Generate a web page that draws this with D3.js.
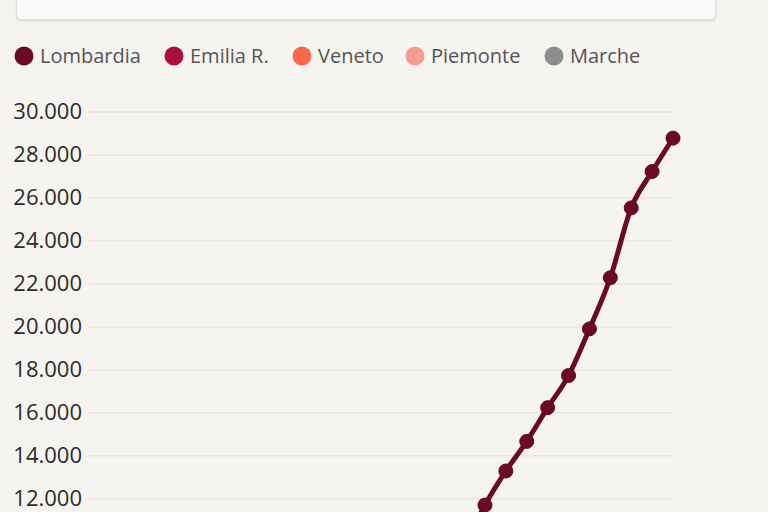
<!DOCTYPE html>
<html>
<head>
<meta charset="utf-8">
<script src="https://cdn.jsdelivr.net/npm/d3@7"></script>
<style>
  html, body { margin: 0; padding: 0; background: #f6f4f0; overflow: hidden; }
  body { width: 768px; height: 512px; position: relative; }
  .box { position: absolute; left: 16px; top: -40px; width: 698px; height: 58px; background: #f9f9f8;
         border: 1px solid #dcdcdc; border-radius: 4px; box-shadow: 0 1px 2px rgba(0,0,0,0.12); }
  svg { position: absolute; left: 0; top: 0; }
</style>
</head>
<body>
<div class="box"></div>
<svg id="chart" width="768" height="512"></svg>
<script>
const dates = d3.timeDays(new Date(2020, 1, 24), new Date(2020, 2, 24));
const regions = ["Lombardia", "Emilia R.", "Veneto", "Piemonte", "Marche"];
const colors = ["#6b0a26", "#a90f3f", "#f8694a", "#f49d97", "#8e8e8c"];
const lombardia = [172, 240, 258, 403, 531, 615, 984, 1254, 1520, 1820, 2251, 2612, 3420, 4189, 5469, 5791, 7280, 8725, 9820, 11685, 13272, 14649, 16220, 17713, 19884, 22264, 25515, 27206, 28761];
const emilia = [9, 18, 26, 47, 97, 145, 217, 285, 335, 420, 544, 698, 870, 1180, 1386, 1739, 2263, 2644, 3093, 3522, 4525, 5214, 5968, 6705, 7555, 8531, 9254, 9254, 9254];
const veneto = [32, 43, 71, 111, 151, 191, 263, 273, 307, 360, 407, 488, 543, 670, 744, 1023, 1384, 1595, 1937, 2172, 2473, 2704, 3214, 3484, 4031, 4617, 5122, 5505, 5948];
const piemonte = [3, 3, 3, 3, 11, 11, 49, 82, 143, 207, 294, 350, 501, 580, 1111, 1516, 1897, 2341, 2559, 3090, 3461, 4420, 5122, 5518, 6193, 6534, 7092, 7554, 8206];
const marche = [0, 0, 1, 3, 6, 11, 25, 61, 84, 124, 199, 355, 394, 479, 592, 925, 1133, 1242, 1453, 1802, 2019, 2232, 2569, 2736, 2934, 3373, 3558, 3684, 3976];
const yTicks = [12000, 14000, 16000, 18000, 20000, 22000, 24000, 26000, 28000, 30000];

const seriesValues = [lombardia, emilia, veneto, piemonte, marche];
const series = regions.map((r, i) => ({ name: r, color: colors[i], values: seriesValues[i] }));

const svg = d3.select("#chart");
const mLeft = 88, mRight = 673, mTop = 111.5, pxPer1000 = 21.49;
const x = d3.scaleTime().domain([dates[0], dates[dates.length - 1]]).range([mLeft, mRight]);
const y = d3.scaleLinear().domain([0, 30000]).range([mTop + 30 * pxPer1000, mTop]);

const fmt = d3.formatLocale({ decimal: ",", thousands: ".", grouping: [3], currency: ["€", ""] }).format(",");

// Legend
const legendX = [24, 174, 302, 415, 554];
const lg = svg.append("g").selectAll("g").data(series).join("g")
  .attr("transform", (d, i) => `translate(${legendX[i]},56)`);
lg.append("circle").attr("r", 9.5).attr("fill", d => d.color);
lg.append("text").attr("x", 16).attr("dy", "0.35em")
  .style("font-family", "'Open Sans', sans-serif").style("font-size", "20px").attr("fill", "#555")
  .text(d => d.name);

// Y axis
const yAxis = d3.axisLeft(y).tickValues(yTicks).tickFormat(fmt).tickSize(-(mRight - mLeft)).tickPadding(6);
const ga = svg.append("g").attr("transform", `translate(${mLeft},0)`).call(yAxis);
ga.select(".domain").remove();
ga.selectAll(".tick line").attr("stroke", "#e9e6e1").attr("stroke-width", 1.5);
ga.selectAll(".tick text").attr("x", -6).attr("dy", "0.34em").attr("fill", "#2b2b2b")
  .style("font-family", "'Open Sans', sans-serif").style("font-size", "22px");

// Lines
const line = d3.line().x((d, i) => x(dates[i])).y(d => y(d)).curve(d3.curveMonotoneX);
const sg = svg.append("g").selectAll("g").data(series.slice().reverse()).join("g");
sg.append("path").attr("d", d => line(d.values)).attr("fill", "none")
  .attr("stroke", d => d.color).attr("stroke-width", 5).attr("stroke-linejoin", "round");
sg.selectAll("circle").data(d => d.values.map((v, i) => ({ v, i, c: d.color }))).join("circle")
  .attr("cx", d => x(dates[d.i])).attr("cy", d => y(d.v)).attr("r", 7)
  .attr("fill", d => d.c).attr("stroke", d => d3.color(d.c).darker(0.4)).attr("stroke-width", 1);
</script>
</body>
</html>
